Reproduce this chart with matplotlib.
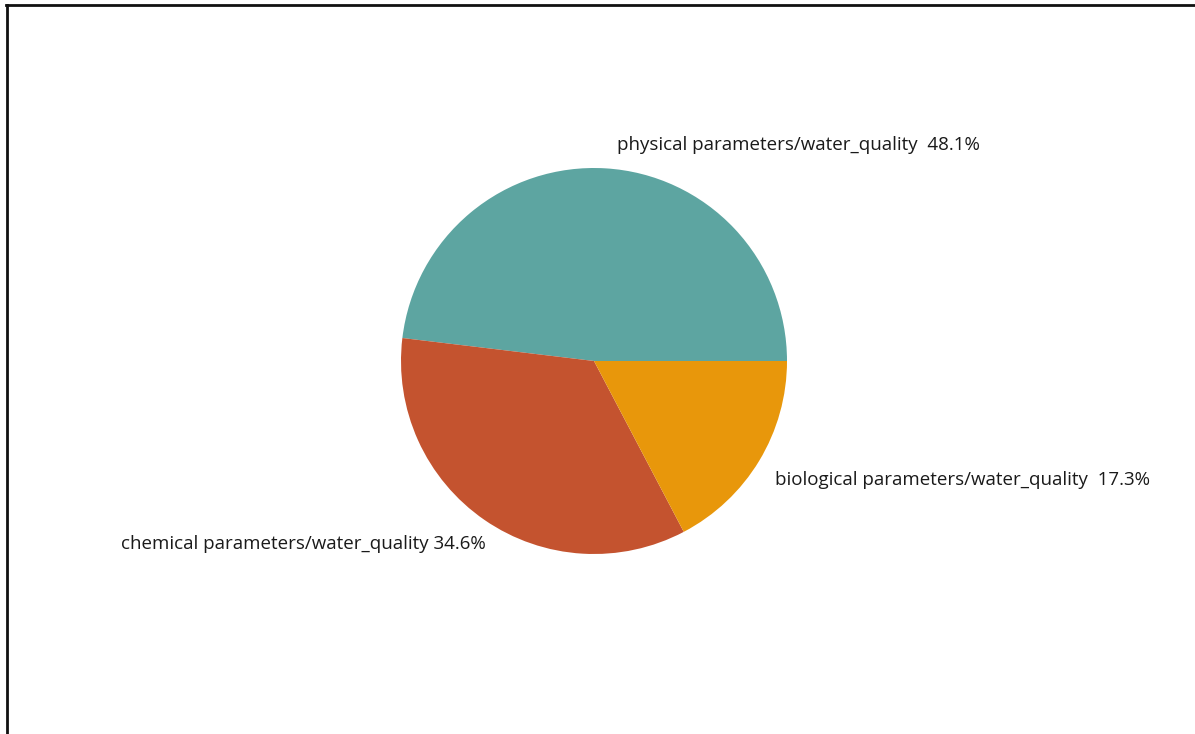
import matplotlib
matplotlib.use("Agg")
import matplotlib.pyplot as plt
from matplotlib.lines import Line2D

categories = ["physical parameters/water_quality", "chemical parameters/water_quality", "biological parameters/water_quality"]
percentages = [48.1, 34.6, 17.3]
colors = ["#5DA5A1", "#C4532F", "#E8970B"]
label_texts = ["physical parameters/water_quality  48.1%",
               "chemical parameters/water_quality 34.6%",
               "biological parameters/water_quality  17.3%"]

W, H = 1195, 734
fig = plt.figure(figsize=(W / 100, H / 100), dpi=100)
fig.patch.set_facecolor("white")

cx, cy, r = 594, 361, 193
ax = fig.add_axes([(cx - r) / W, (H - cy - r) / H, 2 * r / W, 2 * r / H])
ax.pie(percentages, colors=colors, startangle=0, counterclock=True,
       wedgeprops=dict(linewidth=0, antialiased=True))
ax.set_xlim(-1, 1)
ax.set_ylim(-1, 1)
ax.set_aspect("equal")
ax.axis("off")

def px(x, y):
    return (x - cx) / r, (cy - y) / r

font = dict(fontsize=13.5, color="#1a1a1a", family=["Open Sans", "DejaVu Sans"])
x, y = px(617, 145)
ax.text(x, y, label_texts[0], ha="left", va="center", clip_on=False, **font)
x, y = px(486, 544)
ax.text(x, y, label_texts[1], ha="right", va="center", clip_on=False, **font)
x, y = px(775, 480)
ax.text(x, y, label_texts[2], ha="left", va="center", clip_on=False, **font)

# frame (left and top edges)
fig.add_artist(Line2D([7 / W, 7 / W], [0, 1 - 5 / H], transform=fig.transFigure, color="#111111", linewidth=2))
fig.add_artist(Line2D([6 / W, 1], [1 - 5 / H, 1 - 5 / H], transform=fig.transFigure, color="#111111", linewidth=2))

fig.savefig("out.png", dpi=100)
